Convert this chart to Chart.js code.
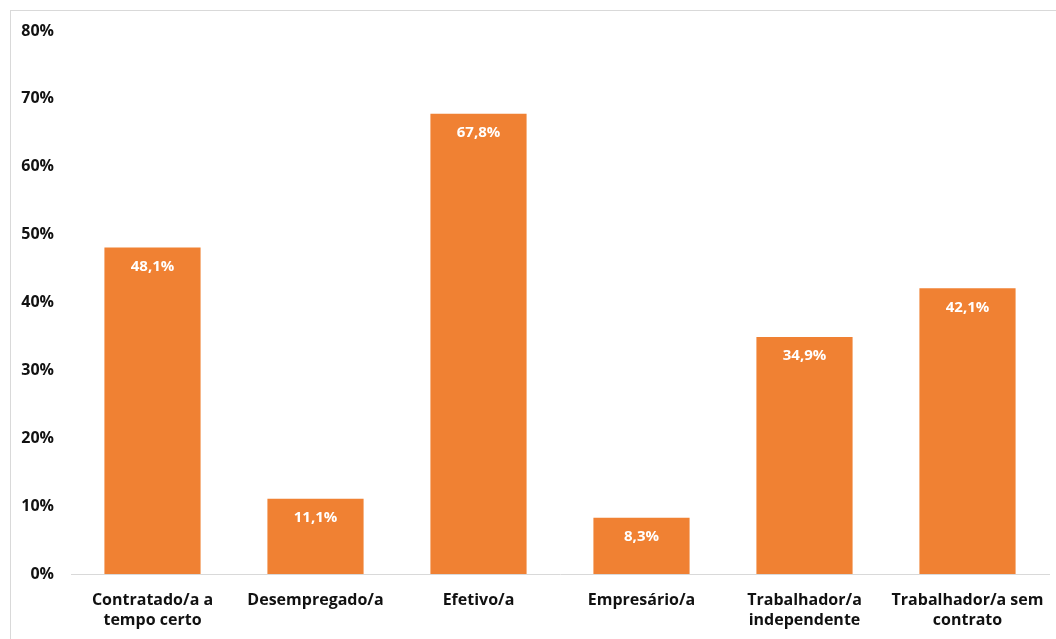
<!DOCTYPE html>
<html>
<head>
<meta charset="utf-8">
<script src="https://cdn.jsdelivr.net/npm/chart.js@4"></script>
<style>
  html, body { margin: 0; padding: 0; background: #fff; overflow: hidden; }
  #frame { position: absolute; left: 10px; top: 10px; width: 1200px; height: 800px; border: 1px solid #d9d9d9; }
  #wrap { position: absolute; left: 0; top: 0; width: 1056px; height: 639px; }
</style>
</head>
<body>
<div id="frame"></div>
<div id="wrap"><canvas id="chart"></canvas></div>
<script>
const categories = [
  ['Contratado/a a', 'tempo certo'],
  'Desempregado/a',
  'Efetivo/a',
  'Empresário/a',
  ['Trabalhador/a', 'independente'],
  ['Trabalhador/a sem', 'contrato']
];
const values = [48.1, 11.1, 67.8, 8.3, 34.9, 42.1];
const yTicks = [0, 10, 20, 30, 40, 50, 60, 70, 80];

const fontFamily = '"Open Sans", Lato, sans-serif';

// white value labels just inside the top of each bar
const barLabels = {
  id: 'barLabels',
  afterDatasetsDraw(chart) {
    const ctx = chart.ctx;
    const meta = chart.getDatasetMeta(0);
    ctx.save();
    ctx.fillStyle = '#ffffff';
    ctx.font = 'bold 15px ' + fontFamily;
    ctx.textAlign = 'center';
    ctx.textBaseline = 'middle';
    meta.data.forEach((bar, i) => {
      ctx.fillText(values[i].toFixed(1).replace('.', ',') + '%', bar.x, bar.y + 19);
    });
    ctx.restore();
  }
};

new Chart(document.getElementById('chart'), {
  type: 'bar',
  data: {
    labels: categories,
    datasets: [{
      data: values,
      backgroundColor: '#F08133',
      barPercentage: 0.59,
      categoryPercentage: 1
    }]
  },
  options: {
    responsive: true,
    maintainAspectRatio: false,
    animation: false,
    layout: { padding: { top: 31, right: 7, bottom: 0, left: 0 } },
    plugins: { legend: { display: false }, tooltip: { enabled: false } },
    scales: {
      x: {
        afterFit: axis => {
          axis.height = 65;
          axis.paddingLeft = 0;
          axis.paddingRight = 0;
        },
        grid: { display: false, drawTicks: false },
        border: { display: true, color: '#d9d9d9', width: 1 },
        ticks: {
          color: '#111',
          font: { family: fontFamily, size: 16, weight: 'bold', lineHeight: 1.25 },
          padding: 16,
          maxRotation: 0,
          autoSkip: false
        }
      },
      y: {
        min: 0,
        max: 80,
        afterBuildTicks: axis => { axis.ticks = yTicks.map(v => ({ value: v })); },
        afterFit: axis => { axis.width = 71; },
        grid: { display: false, drawTicks: false },
        border: { display: false },
        ticks: {
          color: '#111',
          font: { family: fontFamily, size: 16, weight: 'bold' },
          padding: 17,
          callback: v => v + '%'
        }
      }
    }
  },
  plugins: [barLabels]
});
</script>
</body>
</html>
